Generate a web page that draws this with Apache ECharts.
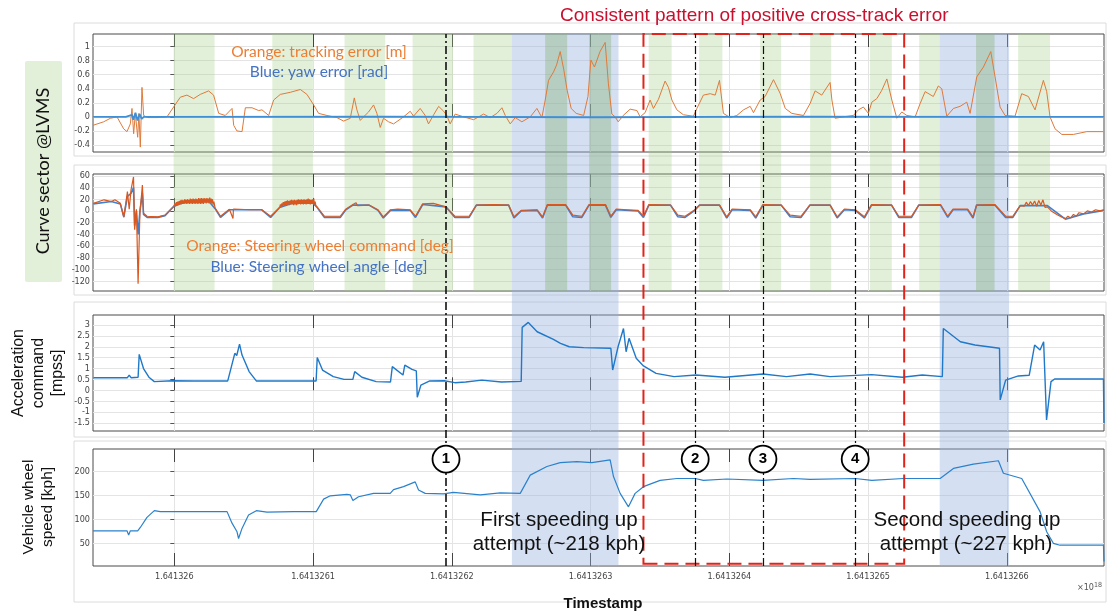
<!DOCTYPE html>
<html>
<head>
<meta charset="utf-8">
<script src="https://cdn.jsdelivr.net/npm/echarts@6/dist/echarts.min.js"></script>
<style>
html, body { margin: 0; padding: 0; background: #fff; }
#chart { width: 1108px; height: 615px; }
</style>
</head>
<body>
<div id="chart"></div>
<script>
// x values are seconds after 1.641326e9 s (axis shows the timestamp in units of 1e18 ns)
var xTickValues = [0, 100, 200, 300, 400, 500, 600];
var xTickLabels = ['1.641326', '1.6413261', '1.6413262', '1.6413263', '1.6413264', '1.6413265', '1.6413266'];

var yTicksTrack = [-0.4, -0.2, 0, 0.2, 0.4, 0.6, 0.8, 1];
var yTicksSteer = [-120, -100, -80, -60, -40, -20, 0, 20, 40, 60];
var yTicksAccel = [-1.5, -1, -0.5, 0, 0.5, 1, 1.5, 2, 2.5, 3];
var yTicksSpeed = [50, 100, 150, 200];

// tracking error [m]
var trackError = [
  [-58.6,-0.12],[-50.9,-0.07],[-46.1,-0.02],[-41.3,0],[-36.5,-0.17],[-34.1,-0.21],[-31.7,-0.10],[-30.5,0.12],
  [-29.3,-0.24],[-28.1,0.05],[-26.4,-0.29],[-25.5,0.05],[-24.5,-0.43],[-23.3,0.42],[-22.1,0.02],[-19.2,-0.01],
  [-12.5,-0.01],[-5.3,0],[-0.5,0.14],[4.3,0.28],[9.1,0.31],[13.9,0.26],[18.7,0.32],[24.7,0.37],[28.3,0.31],
  [32.0,0.05],[36.7,0.02],[41.6,0.12],[42.8,-0.12],[45.1,-0.2],[48.8,-0.21],[51.2,0.13],[56.0,0.13],[60.8,0.09],
  [63.2,0.10],[68.0,0.02],[71.6,0.24],[76.4,0.32],[83.6,0.35],[90.8,0.39],[95.6,0.32],[100.4,0.17],[104.0,0.05],
  [110.0,0.02],[117.2,-0.01],[122.0,-0.06],[126.8,-0.02],[129.7,0.27],[131.6,0.10],[134.0,-0.05],[136.4,0],
  [140.0,0.07],[143.6,0.17],[146.0,0.05],[148.4,-0.15],[150.8,-0.02],[154.4,-0.07],[158.0,-0.10],[165.2,0],
  [170.0,0.08],[172.4,0.01],[177.2,0.12],[180.8,0.02],[183.2,-0.10],[186.9,0.03],[190.5,0.15],[194.1,0.08],
  [196.4,0.02],[198.8,-0.10],[202.4,0.04],[208.5,0],[215.7,-0.04],[222.9,0.04],[227.7,-0.01],[232.5,0.05],
  [236.1,0.13],[238.5,0.02],[242.1,-0.10],[245.7,-0.01],[250.5,-0.07],[256.5,0],[261.3,0.12],[264.9,-0.01],
  [267.3,0.24],[269.7,0.52],[273.3,0.64],[275.5,0.74],[278.1,0.93],[280.7,0.67],[283.1,0.38],[286.0,0.12],
  [289.6,0.05],[295.0,0.02],[298.1,0.29],[300.2,0.81],[302.8,0.71],[306.8,0.93],[310.5,1.06],[312.8,0.48],
  [315.3,0.04],[317.7,0],[319.9,-0.07],[323.5,0.02],[328.5,0.11],[333.4,0.09],[335.7,0],[339.3,0.06],
  [342.9,0.24],[345.3,0.12],[348.9,0.25],[353.7,0.51],[356.1,0.42],[358.6,0.24],[362.2,0.10],[366.9,0.03],
  [374.1,0.01],[376.6,0.12],[381.3,0.31],[386.2,0.33],[389.8,0.31],[392.9,0.52],[395.7,0.05],[400.6,-0.01],
  [405.4,0.02],[410.2,0.10],[415.0,0.15],[417.4,0.06],[422.2,0.24],[425.8,0.29],[431.8,0.53],[436.7,0.33],
  [440.3,0.12],[445.0,0.05],[453.4,0.02],[458.2,0.19],[461.8,0.37],[466.6,0.31],[472.6,0.49],[473.9,0.24],
  [476.2,-0.02],[482.2,0],[489.4,0.02],[493.0,0.10],[496.6,0.14],[500.2,0.05],[502.7,0.21],[506.3,0.26],
  [509.9,0.38],[513.5,0.54],[517.1,0.24],[520.7,-0.02],[524.3,0.07],[527.9,0.02],[533.9,0],[537.5,0.19],
  [541.1,0.36],[547.0,0.29],[550.6,0.44],[553.1,0.40],[556.7,0.01],[561.5,0.12],[566.3,0.15],[571.1,0.21],
  [573.5,0.05],[578.3,0.57],[583.1,0.71],[588.4,0.93],[591.5,0.57],[595.1,0.14],[598.7,0.02],[605.9,0.01],
  [610.7,0.33],[615.5,0.29],[620.3,0.10],[626.3,0.52],[628.7,0.36],[631.1,0],[634.7,-0.17],[639.6,-0.25],
  [647.9,-0.25],[657.6,-0.21],[670,-0.21]
];

// yaw error [rad]
var yawError = [
  [-58.6,0],[-35,0],[-30.5,0.03],[-29.5,-0.04],[-28,0.06],[-26.5,-0.05],[-25,0.04],[-23.5,-0.03],[-22,0],
  [150,0.005],[300,-0.005],[450,0.005],[600,0],[670,0]
];

// steering wheel command [deg]
var steerCmd = [
  [-58.3,13],[-50.6,19],[-45.4,16],[-42.8,19],[-38.9,13],[-36.4,-11],[-33.8,33],[-32.5,3],[-31.2,36],[-29.4,58],
  [-28.6,-32],[-27.3,3],[-26.1,-124],[-24.8,-4],[-23.0,44],[-22.2,-4],[-19.6,-9],[-11.9,-10],[-6.7,-7],
  [-0.3,8],[0.5,13],[1,8],[1.5,15],[2,9],[2.5,16],[3,10],[3.5,17],[4,11],[4.5,18],[5,11],[5.5,19],[6,12],[6.5,18],
  [7,12],[7.5,20],[8,13],[8.5,19],[9,12],[9.5,20],[10,13],[10.5,19],[11,12],[11.5,21],[12,13],[12.5,20],[13,12],
  [13.5,21],[14,13],[14.5,20],[15,12],[15.5,21],[16,13],[16.5,20],[17,12],[17.5,22],[18,13],[18.5,21],[19,12],
  [19.5,22],[20,13],[20.5,21],[21,12],[21.5,22],[22,14],[22.5,21],[23,13],[23.5,22],[24,14],[24.5,21],[25,13],
  [25.5,23],[26,14],[26.5,21],[27,13],[27.5,20],[28,11],[28.5,16],[29.4,5],
  [33.3,-9],[39.7,3],[42.3,-13],[42.6,3],[55.2,2],[63.0,2],[69.4,-9],
  [75.9,6],[76.5,11],[77,7],[77.5,13],[78,8],[78.5,15],[79,9],[79.5,16],[80,10],[80.5,17],[81,10],[81.5,18],
  [82,11],[82.5,17],[83,10],[83.5,18],[84,11],[84.5,19],[85,11],[85.5,18],[86,10],[86.5,19],[87,11],[87.5,18],
  [88,10],[88.5,19],[89,11],[89.5,20],[90,12],[90.5,19],[91,11],[91.5,20],[92,12],[92.5,19],[93,11],[93.5,20],
  [94,12],[94.5,19],[95,11],[95.5,20],[96,12],[96.5,21],[97,12],[97.5,20],[98,11],[98.5,19],[99,12],[99.5,20],
  [100,12],[100.5,21],[101,11],[101.5,16],[102,9],[103,6],
  [108.1,-9],[119.7,-9],[123.6,3],[128.7,11],[131,14],[132,9],[140.3,10],[146.8,2],[150.6,-10],[155.8,2],[161.0,3],
  [170.0,2],[173.8,-9],[179.0,12],[186.7,13],[195.7,7],[202.2,-9],[212.5,-9],[217.7,10],[230.6,11],[240.9,10],
  [244.8,-10],[250,1],[261.5,2],[265.4,-10],[268.9,11],[282,11],[287.2,-7],[293.7,-9],[298.9,11],[310.7,11],
  [314.6,-9],[318.5,3],[326.4,2],[334.2,1],[338.1,-9],[342,11],[357.6,10],[362.9,-7],[368.1,-9],[374.6,1],
  [378.5,10],[392.9,10],[398.1,-10],[402,3],[415.1,2],[419,-10],[424.2,11],[437.3,10],[443.8,-7],[451.7,-9],
  [458.1,10],[472.6,10],[477.7,-10],[482.9,3],[490.8,2],[497.3,-10],[502.5,11],[516.9,10],[522.1,-9],[531.3,-9],
  [536.5,10],[552.2,11],[557.4,-9],[561.2,3],[571.7,3],[575.6,-10],[578.2,10],[591.3,11],[599.1,-9],[604.3,-9],
  [609.6,9],[611,12],[612.5,8],[614,15],[615.5,9],[617,16],[618.5,10],[620,17],[621.5,8],[623,18],[624.5,10],
  [626,19],[627.5,6],[629.2,7],[632,0],[636,-6],[639,-10],[642.2,-13],[644,-9],[646,-12],[648,-6],[650,-9],
  [652,-3],[655.3,-5],[658,0],[661,-2],[664,2],[667,0],[670,2]
];

// steering wheel angle [deg]
var steerAngle = [
  [-58.3,12],[-45.4,16],[-38.9,12],[-36.4,-10],[-33.8,25],[-31.2,30],[-29.4,40],[-28.6,-25],[-27.3,0],[-26.1,-40],
  [-24.8,0],[-23.0,30],[-22.2,-6],[-19.6,-11],[-11.9,-11],[-6.7,-8],[-0.3,8],[6,14],[15,16],[25,16],[29.4,4],
  [33.3,-11],[39.7,2],[63.0,2],[69.4,-11],[75.9,6],[85,13],[100,13],[103,6],[108.1,-11],[119.7,-11],[123.6,2],
  [128.7,10],[140.3,10],[146.8,1],[150.6,-12],[155.8,1],[170.0,1],[173.8,-11],[179.0,11],[195.7,7],[202.2,-11],
  [212.5,-11],[217.7,10],[240.9,10],[244.8,-12],[250,0],[261.5,1],[265.4,-12],[268.9,10],[282,10],[287.2,-10],
  [293.7,-11],[298.9,10],[310.7,10],[314.6,-11],[318.5,2],[334.2,0],[338.1,-11],[342,10],[357.6,10],[362.9,-10],
  [368.1,-11],[374.6,0],[378.5,10],[392.9,10],[398.1,-12],[402,2],[415.1,1],[419,-12],[424.2,10],[437.3,10],
  [443.8,-10],[451.7,-11],[458.1,10],[472.6,10],[477.7,-12],[482.9,2],[490.8,1],[497.3,-12],[502.5,10],[516.9,10],
  [522.1,-11],[531.3,-11],[536.5,10],[552.2,10],[557.4,-11],[561.2,2],[571.7,2],[575.6,-12],[578.2,10],[591.3,10],
  [599.1,-11],[604.3,-11],[609.6,9],[629.2,9],[642.2,-14],[655.3,-5],[670,1]
];

// acceleration command [mpss]
var accelCmd = [
  [-58.3,0.58],[-33.8,0.58],[-32.5,0.7],[-31.2,0.58],[-26.1,0.6],[-25.3,1.65],[-22.2,1.0],[-18.3,0.6],[-14.4,0.4],
  [-1.5,0.44],[13.9,0.43],[38.5,0.43],[43.6,1.7],[45,1.6],[47.0,2.12],[48.8,1.62],[53.9,0.86],[59.1,0.43],
  [81.0,0.43],[102.2,0.43],[103.0,1.51],[106.8,0.93],[114.6,0.63],[122.3,0.5],[128.7,0.5],[130.0,0.86],
  [135.2,0.6],[145.5,0.4],[155.8,0.38],[157.1,1.09],[164.8,0.7],[166.1,1.16],[171.3,0.96],[174.4,0.89],
  [175.1,-0.32],[177.7,0.24],[184.1,0.43],[194.5,0.44],[202.2,0.35],[210.0,0.38],[221.6,0.47],[235.8,0.38],
  [250.0,0.41],[250.7,2.89],[255.1,3.12],[261.5,2.69],[273.2,2.34],[278.3,2.16],[284.6,2.0],[295.0,1.96],
  [314.6,1.93],[315.9,0.93],[319.8,2.0],[323.7,2.84],[325.6,1.77],[327.7,2.39],[332.9,1.47],[338.1,1.12],
  [347.2,0.78],[360.2,0.63],[375.9,0.7],[396.8,0.6],[424.2,0.75],[441.2,0.63],[458.2,0.75],[472.6,0.63],
  [502.5,0.72],[524.6,0.6],[539.0,0.7],[553.5,0.63],[554.2,2.84],[566.5,2.23],[577.0,2.08],[594.7,1.93],
  [595.2,-0.44],[599.1,0.47],[608.3,0.66],[616.1,0.69],[620.0,2.08],[623.9,1.85],[626.5,2.23],[627.8,2.15],
  [628.6,-1.36],[631.8,0.4],[634.4,0.52],[669.6,0.52],[670,-1.5]
];

// vehicle wheel speed [kph]
var wheelSpeed = [
  [-58.6,76],[-34.1,76],[-32.9,67],[-31.7,76],[-26.4,76],[-24.5,83],[-19.7,104],[-14.4,118],[-10.1,116],
  [13.9,116],[38.0,116],[41.6,92],[45.2,74],[46.3,60],[48.8,81],[53.5,109],[59.1,118],[66.8,115],[86.0,116],
  [102.3,116],[107.6,142],[112.4,149],[124.4,152],[126.8,151],[128.7,139],[132.8,147],[143.6,154],[155.6,154],
  [158.0,162],[165.2,168],[173.6,178],[176.0,161],[180.8,154],[194.0,153],[201.2,156],[220.5,151],[234.9,155],
  [249.3,154],[256.5,192],[268.5,210],[278.1,218],[290.1,220],[300.9,218],[314.1,224],[316.5,189],[321.3,154],
  [327.3,126],[332.1,154],[338.1,168],[350.1,181],[362.2,185],[375.4,185],[381.3,181],[398.2,184],[424.1,181],
  [446.2,185],[458.2,183],[490.6,185],[502.7,181],[525.4,185],[551.9,185],[561.5,206],[575.9,215],[593.9,222],
  [597.5,196],[610.7,185],[623.9,116],[628.7,74],[633.5,50],[638.3,46],[669.6,46],[670,12]
];

var greenBands = [
  [-0.5,29.0],[70.6,99.9],[122.7,152.0],[171.7,200.8],[215.6,243.3],[267.3,283.1],[299.0,314.8],[341.9,358.4],
  [378.2,395.0],[422.2,437.3],[458.2,473.4],[501.4,517.1],[536.8,551.6],[577.8,591.1],[608.1,631.1]
];
var blueBands = [[243.3,320.1],[551.6,601.6]];
var crossTrackBox = [338.1, 526.0];
var eventTimes = [195.8, 375.4, 424.2, 490.7];
var eventLabels = ['1', '2', '3', '4'];

var xMin = -58.6, xMax = 670;
var tickFont = '"Liberation Sans Narrow", "DejaVu Sans Condensed", "Liberation Sans", sans-serif';

var panels = [
  { top: 34, height: 118, min: -0.5, max: 1.18, ticks: yTicksTrack },
  { top: 174, height: 117, min: -136.5, max: 63, ticks: yTicksSteer },
  { top: 315, height: 116, min: -1.87, max: 3.46, ticks: yTicksAccel },
  { top: 449, height: 117, min: 2.7, max: 246.5, ticks: yTicksSpeed }
];

var grids = [], xAxes = [], yAxes = [];
panels.forEach(function (p, i) {
  grids.push({ left: 93, right: 4, top: p.top, height: p.height, show: true, borderColor: '#4a4a4a', borderWidth: 1 });
  xAxes.push({
    type: 'value', gridIndex: i, min: xMin, max: xMax, position: 'bottom',
    axisLine: { show: false },
    axisTick: { show: true, inside: true, length: 13, customValues: xTickValues, lineStyle: { color: '#444' } },
    axisLabel: {
      show: i === 3, customValues: xTickValues, fontSize: 9, color: '#444', margin: 6, fontFamily: tickFont,
      formatter: function (v) { return xTickLabels[xTickValues.indexOf(v)]; }
    },
    splitLine: { show: true, lineStyle: { color: '#e4e4e4' } }
  });
  xAxes.push({
    type: 'value', gridIndex: i, min: xMin, max: xMax, position: 'top',
    axisLine: { show: false },
    axisTick: { show: true, inside: true, length: 13, customValues: xTickValues, lineStyle: { color: '#444' } },
    axisLabel: { show: false }, splitLine: { show: false }
  });
  yAxes.push({
    type: 'value', gridIndex: i, min: p.min, max: p.max,
    axisLine: { show: false },
    axisTick: { show: true, length: 4, customValues: p.ticks, lineStyle: { color: '#555' } },
    axisLabel: { customValues: p.ticks, fontSize: 9, color: '#444', margin: 3, fontFamily: tickFont },
    splitLine: { show: true, lineStyle: { color: '#e4e4e4' } }
  });
});
// overlay grid spanning all four panels, for the bands and event markers
grids.push({ left: 93, right: 4, top: 34, height: 532, show: false });
xAxes.push({ type: 'value', gridIndex: 4, min: xMin, max: xMax, show: false });
yAxes.push({ type: 'value', gridIndex: 4, min: 0, max: 1, show: false });
var greenFloor = 0.517;

var bandAreas = [];
blueBands.forEach(function (b) {
  bandAreas.push([{ xAxis: b[0], yAxis: 0, itemStyle: { color: 'rgba(150,176,222,0.4)' } }, { xAxis: b[1], yAxis: 1 }]);
});
greenBands.forEach(function (g) {
  bandAreas.push([{ xAxis: g[0], yAxis: greenFloor, itemStyle: { color: 'rgba(160,205,130,0.3)' } }, { xAxis: g[1], yAxis: 1 }]);
});
greenBands.forEach(function (g) {
  blueBands.forEach(function (b) {
    var lo = Math.max(g[0], b[0]), hi = Math.min(g[1], b[1]);
    if (hi > lo) {
      bandAreas.push([{ xAxis: lo, yAxis: greenFloor, itemStyle: { color: 'rgba(120,150,130,0.18)' } }, { xAxis: hi, yAxis: 1 }]);
    }
  });
});

function lineSeries(data, xi, yi, color, width) {
  return {
    type: 'line', data: data, xAxisIndex: xi, yAxisIndex: yi, showSymbol: false, symbol: 'none',
    lineStyle: { color: color, width: width }, z: 3, silent: true
  };
}

var series = [
  lineSeries(trackError, 0, 0, '#e07a3a', 1),
  lineSeries(yawError, 0, 0, '#3f8fd6', 1.8),
  lineSeries(steerAngle, 2, 1, '#3f80cf', 1.6),
  lineSeries(steerCmd, 2, 1, '#d9581f', 1.2),
  lineSeries(accelCmd, 4, 2, '#1f78c8', 1.4),
  lineSeries(wheelSpeed, 6, 3, '#2a82cc', 1.2),
  {
    type: 'line', data: [], xAxisIndex: 8, yAxisIndex: 4, silent: true,
    markArea: { silent: true, z: 1, data: bandAreas }
  },
  {
    type: 'line', data: [], xAxisIndex: 8, yAxisIndex: 4, silent: true,
    markArea: {
      silent: true, z: 10,
      data: [[{ xAxis: crossTrackBox[0], yAxis: 0.004, itemStyle: { color: 'rgba(0,0,0,0)', borderColor: '#e2231a', borderWidth: 2, borderType: [14, 7] } },
               { xAxis: crossTrackBox[1], yAxis: 1 }]]
    },
    markLine: {
      silent: true, z: 10, symbol: ['none', 'none'], label: { show: false },
      lineStyle: { color: '#111', type: [8, 3, 2, 3], width: 1.2 },
      data: eventTimes.map(function (t, i) { return { xAxis: t, lineStyle: { width: i === 0 ? 1.6 : 1.2 } }; })
    }
  },
  {
    type: 'scatter', xAxisIndex: 8, yAxisIndex: 4, z: 20, silent: true,
    data: eventTimes.map(function (t) { return [t, 0.201]; }),
    symbol: 'circle', symbolSize: 27,
    itemStyle: { color: '#fff', borderColor: '#000', borderWidth: 1.8, opacity: 1 },
    label: {
      show: true, position: 'inside', color: '#000', fontSize: 15, fontWeight: 'bold', fontFamily: '"Liberation Sans", sans-serif',
      formatter: function (p) { return eventLabels[p.dataIndex]; }
    }
  }
];

var frame = { stroke: '#dcdcdc', lineWidth: 1, fill: 'none' };
var calibri = 'Lato, "Open Sans", sans-serif';
var arial = '"Liberation Sans", Arial, sans-serif';

var graphic = [
  { type: 'rect', shape: { x: 74, y: 23, width: 1032, height: 133 }, style: frame, z: -1 },
  { type: 'rect', shape: { x: 74, y: 165, width: 1032, height: 130 }, style: frame, z: -1 },
  { type: 'rect', shape: { x: 74, y: 302, width: 1032, height: 135 }, style: frame, z: -1 },
  { type: 'rect', shape: { x: 74, y: 441, width: 1032, height: 161 }, style: frame, z: -1 },
  { type: 'rect', shape: { x: 25, y: 61, width: 37, height: 221, r: 2 }, style: { fill: '#e2efd9' }, z: -1 },
  { type: 'text', x: 43, y: 171, rotation: Math.PI / 2, style: { text: 'Curve sector @LVMS', font: '18px ' + calibri, fill: '#111', align: 'center', verticalAlign: 'middle' } },
  { type: 'text', x: 19, y: 373, rotation: Math.PI / 2, style: { text: 'Acceleration', font: '16px ' + arial, fill: '#111', align: 'center', verticalAlign: 'middle' } },
  { type: 'text', x: 39, y: 373, rotation: Math.PI / 2, style: { text: 'command', font: '16px ' + arial, fill: '#111', align: 'center', verticalAlign: 'middle' } },
  { type: 'text', x: 58, y: 373, rotation: Math.PI / 2, style: { text: '[mpss]', font: '16px ' + arial, fill: '#111', align: 'center', verticalAlign: 'middle' } },
  { type: 'text', x: 29, y: 507, rotation: Math.PI / 2, style: { text: 'Vehicle wheel', font: '15.5px ' + arial, fill: '#111', align: 'center', verticalAlign: 'middle' } },
  { type: 'text', x: 48, y: 507, rotation: Math.PI / 2, style: { text: 'speed [kph]', font: '15.5px ' + arial, fill: '#111', align: 'center', verticalAlign: 'middle' } },
  { type: 'text', x: 560, y: 16, z: 30, style: { text: 'Consistent pattern of positive cross-track error', font: '19px ' + arial, fill: '#c8102e', align: 'left', verticalAlign: 'middle' } },
  { type: 'text', x: 319, y: 52, z: 30, style: { text: 'Orange: tracking error [m]', font: '15.5px ' + calibri, fill: '#ed7d31', align: 'center', verticalAlign: 'middle' } },
  { type: 'text', x: 319, y: 72, z: 30, style: { text: 'Blue: yaw error [rad]', font: '15.5px ' + calibri, fill: '#4472c4', align: 'center', verticalAlign: 'middle' } },
  { type: 'text', x: 320, y: 246, z: 30, style: { text: 'Orange: Steering wheel command [deg]', font: '15.5px ' + calibri, fill: '#ed7d31', align: 'center', verticalAlign: 'middle' } },
  { type: 'text', x: 319, y: 267, z: 30, style: { text: 'Blue: Steering wheel angle [deg]', font: '15.5px ' + calibri, fill: '#4472c4', align: 'center', verticalAlign: 'middle' } },
  { type: 'text', x: 559, y: 520, z: 30, style: { text: 'First speeding up', font: '20.5px ' + arial, fill: '#111', align: 'center', verticalAlign: 'middle' } },
  { type: 'text', x: 559, y: 544, z: 30, style: { text: 'attempt (~218 kph)', font: '20.5px ' + arial, fill: '#111', align: 'center', verticalAlign: 'middle' } },
  { type: 'text', x: 967, y: 520, z: 30, style: { text: 'Second speeding up', font: '20.5px ' + arial, fill: '#111', align: 'center', verticalAlign: 'middle' } },
  { type: 'text', x: 966, y: 544, z: 30, style: { text: 'attempt (~227 kph)', font: '20.5px ' + arial, fill: '#111', align: 'center', verticalAlign: 'middle' } },
  { type: 'text', x: 603, y: 604, z: 30, style: { text: 'Timestamp', font: 'bold 15px ' + arial, fill: '#111', align: 'center', verticalAlign: 'middle' } },
  { type: 'text', x: 1102, y: 588, z: 30, style: { text: '{a|×10}{b|18}', align: 'right', verticalAlign: 'middle',
      rich: { a: { fontSize: 9, fontFamily: tickFont, fill: '#555' }, b: { fontSize: 7, fontFamily: tickFont, fill: '#555', verticalAlign: 'top', padding: [0, 0, 6, 0] } } } }
];

var chart = echarts.init(document.getElementById('chart'), null, { renderer: 'canvas' });
chart.setOption({
  animation: false,
  backgroundColor: '#fff',
  grid: grids,
  xAxis: xAxes,
  yAxis: yAxes,
  series: series,
  graphic: graphic
});
</script>
</body>
</html>
